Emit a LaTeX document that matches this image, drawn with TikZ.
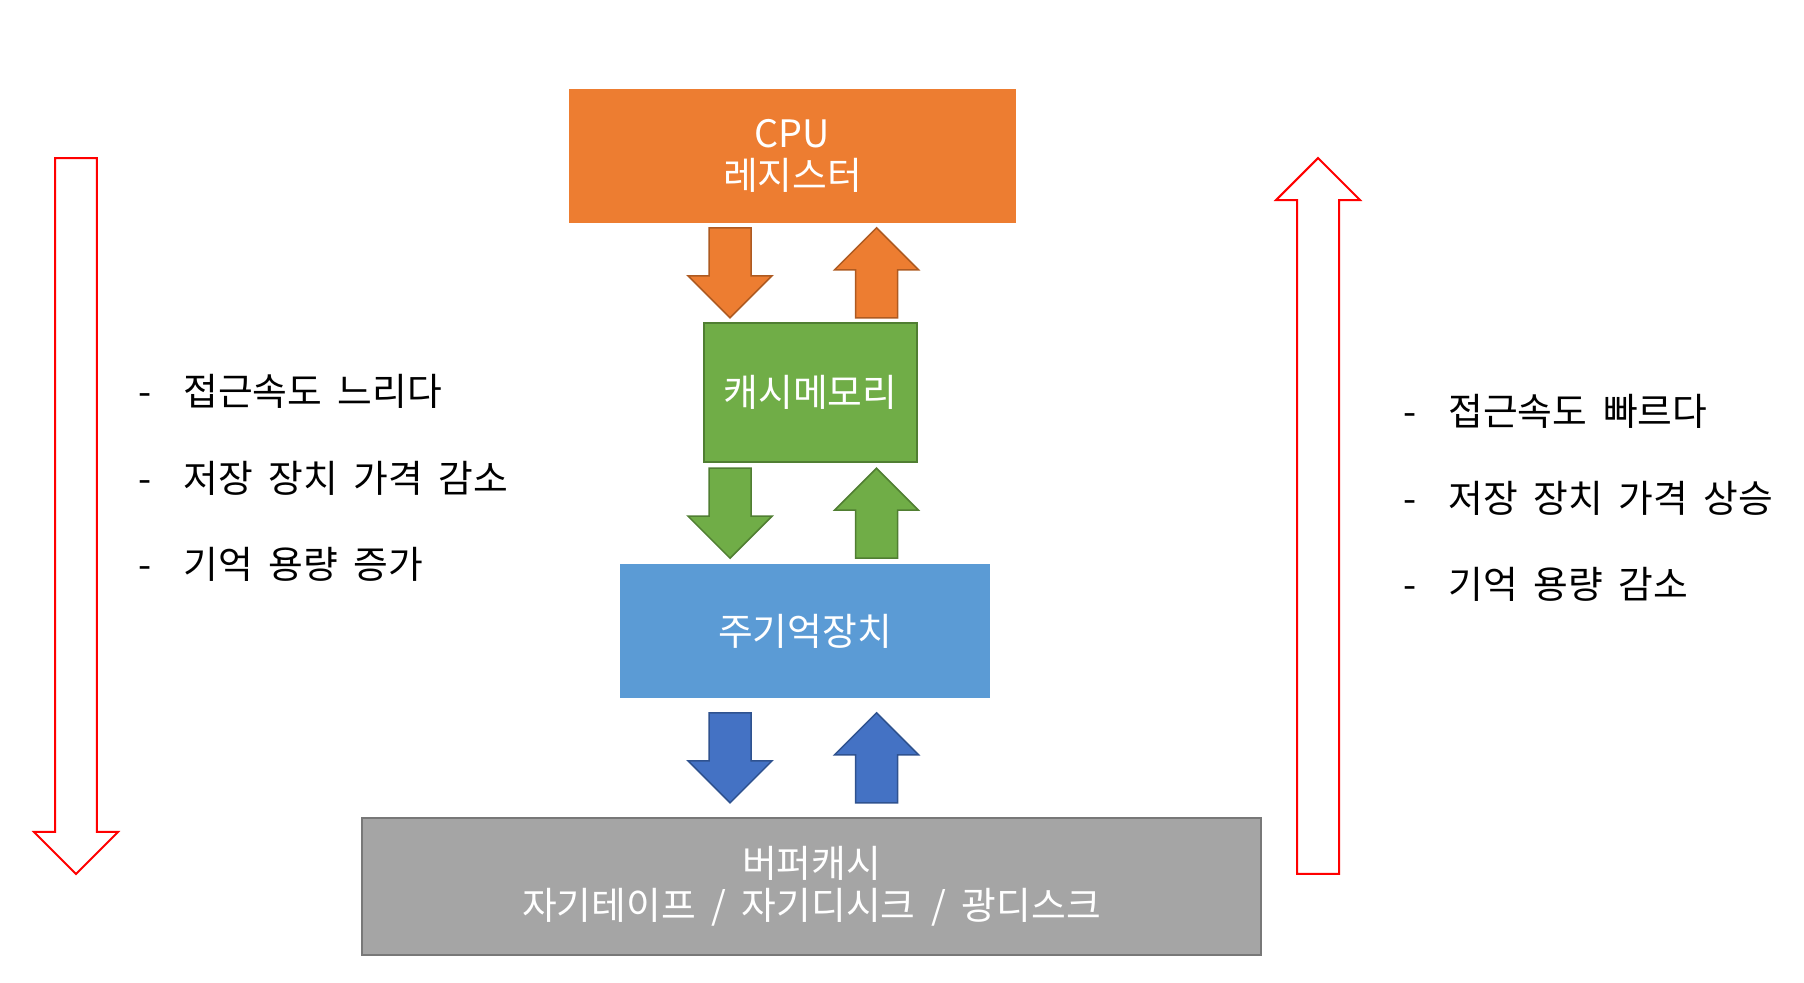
\documentclass[tikz,border=0pt]{standalone}
\usepackage{fontspec}
\setmainfont[WordSpace=1.85]{Noto Sans CJK KR}
\usetikzlibrary{calc}

\definecolor{cpuorange}{HTML}{ED7D31}
\definecolor{cpuedge}{HTML}{AE5A21}
\definecolor{cachegreen}{HTML}{70AD47}
\definecolor{cacheedge}{HTML}{507E32}
\definecolor{memblue}{HTML}{5B9BD5}
\definecolor{arrblue}{HTML}{4472C4}
\definecolor{arrblueedge}{HTML}{2F528F}
\definecolor{diskgray}{HTML}{A5A5A5}
\definecolor{diskedge}{HTML}{787878}

\tikzset{
  box/.style={rectangle, text=white, align=center, inner sep=0pt,
    font=\fontsize{21.5}{24}\selectfont},
  blockarr/.style={line width=0.03cm, line join=miter},
  hollowarr/.style={line width=0.04cm, draw=red, fill=white},
  sidetext/.style={align=left, anchor=west, inner sep=0pt,
    font=\fontsize{21.5}{49.2}\selectfont}
}

% block arrow of given length, centred between two points
% [length]{style}{from}{to}
\newcommand{\blockarrow}[4][1.8cm]{%
  \coordinate (at) at (#3);
  \coordinate (bt) at (#4);
  \coordinate (am) at ($(at)!0.5!(bt)$);
  \coordinate (a0) at ($(am)!#1/2!(at)$);
  \coordinate (a1) at ($(am)!#1/2!(bt)$);
  \coordinate (ah) at ($(a1)!0.84cm!(a0)$);
  \draw[#2] ($(a0)!0.42cm!90:(a1)$) -- ($(ah)!0.42cm!90:(a1)$)
    -- ($(ah)!0.84cm!90:(a1)$) -- (a1) -- ($(ah)!0.84cm!-90:(a1)$)
    -- ($(ah)!0.42cm!-90:(a1)$) -- ($(a0)!0.42cm!-90:(a1)$) -- cycle;}

\begin{document}
\begin{tikzpicture}[x=0.02cm, y=-0.02cm]
  \useasboundingbox (0,0) rectangle (1804,983);

  % memory levels
  \node[box, fill=cpuorange, minimum width=8.94cm, minimum height=2.68cm]
    (cpu) at (792.5,156) {CPU\\레지스터};
  \node[box, fill=cachegreen, draw=cacheedge, line width=0.03cm,
    minimum width=4.26cm, minimum height=2.78cm]
    (cache) at (810.5,392.5) {캐시메모리};
  \node[box, fill=memblue, minimum width=7.4cm, minimum height=2.68cm]
    (mainmem) at (805,631) {주기억장치};
  \node[box, fill=diskgray, draw=diskedge, line width=0.03cm,
    minimum width=17.98cm, minimum height=2.74cm]
    (storage) at (811.5,886.5) {버퍼캐시\\자기테이프 / 자기디시크 / 광디스크};

  \coordinate (dn) at (730,0);
  \coordinate (up) at (876.5,0);

  \blockarrow{blockarr, fill=cpuorange, draw=cpuedge}{cpu.south -| dn}{cache.north -| dn}
  \blockarrow{blockarr, fill=cpuorange, draw=cpuedge}{cache.north -| up}{cpu.south -| up}
  \blockarrow{blockarr, fill=cachegreen, draw=cacheedge}{cache.south -| dn}{mainmem.north -| dn}
  \blockarrow{blockarr, fill=cachegreen, draw=cacheedge}{mainmem.north -| up}{cache.south -| up}
  \blockarrow{blockarr, fill=arrblue, draw=arrblueedge}{mainmem.south -| dn}{storage.north -| dn}
  \blockarrow{blockarr, fill=arrblue, draw=arrblueedge}{storage.north -| up}{mainmem.south -| up}

  % side arrows
  \coordinate (slowtop) at (76,158);
  \coordinate (slowtip) at (76,874);
  \coordinate (fastbot) at (1318,874);
  \coordinate (fasttip) at (1318,158);
  \blockarrow[14.32cm]{hollowarr}{slowtop}{slowtip}
  \blockarrow[14.32cm]{hollowarr}{fastbot}{fasttip}

  \node[sidetext] (slowlist) at (138,478)
    {\makebox[0.9cm][l]{-}접근속도 느리다\\
     \makebox[0.9cm][l]{-}저장 장치 가격 감소\\
     \makebox[0.9cm][l]{-}기억 용량 증가};
  \node[sidetext] (fastlist) at (1403,498)
    {\makebox[0.9cm][l]{-}접근속도 빠르다\\
     \makebox[0.9cm][l]{-}저장 장치 가격 상승\\
     \makebox[0.9cm][l]{-}기억 용량 감소};
\end{tikzpicture}
\end{document}
